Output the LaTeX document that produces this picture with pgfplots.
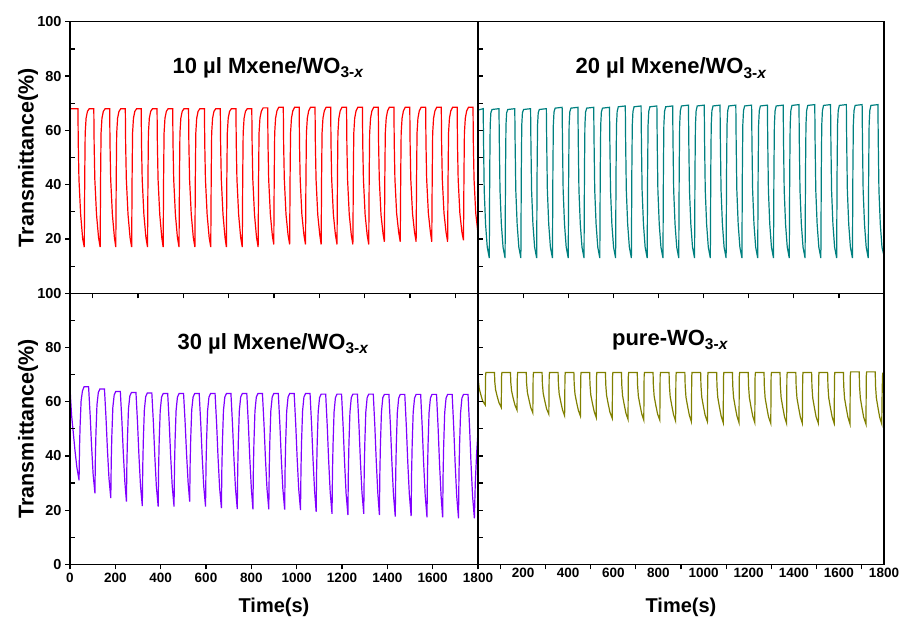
\documentclass[border=0pt]{standalone}
\usepackage{pgfplots}
\pgfplotsset{compat=1.18}
\usepackage{fontspec}
\setmainfont{Liberation Sans}
\definecolor{cred}{RGB}{255,0,0}
\definecolor{cteal}{RGB}{0,128,128}
\definecolor{cviolet}{RGB}{128,0,255}
\definecolor{colive}{RGB}{128,128,0}
\newcommand{\sub}{\raisebox{-4.3pt}{\fontsize{15.5}{15.5}\selectfont 3-\textit{x}}}
\pgfplotsset{
  panel/.style={
    scale only axis, xmin=0, xmax=1800, ymin=0, ymax=100,
    axis line style={line width=1.4pt},
    tick style={black, line width=1.2pt},
    major tick length=5pt,
    tick align=outside,
    xtick pos=bottom, ytick pos=left,
    xticklabel style={font=\fontsize{13.5}{13.5}\selectfont\bfseries},
    yticklabel style={font=\fontsize{14.5}{14.5}\selectfont\bfseries},
    /pgf/number format/assume math mode=true,
    scaled ticks=false,
    xlabel style={font=\fontsize{20}{20}\selectfont\bfseries, at={(axis description cs:0.5,-0.157)}, anchor=center},
    ylabel style={font=\fontsize{21.5}{21.5}\selectfont\bfseries, at={(axis description cs:-0.103,0.5)}, anchor=center},
  },
  ovl/.style={
    scale only axis, xmin=0, xmax=1800, ymin=0, ymax=100,
    axis line style={line width=1.4pt},
    tick style={black, line width=1.2pt},
    major tick length=5pt,
    xtick pos=bottom, ytick pos=left, xticklabels={}, yticklabels={},
  },
}
\begin{document}
\begin{tikzpicture}
\path[use as bounding box] (0pt,0pt) rectangle (901pt,619pt);
% ---------------- top-left ----------------
\begin{axis}[panel, at={(70pt,325.7pt)}, anchor=south west, width=408pt, height=271.5pt,
  xtick={100,300,...,1700}, xticklabels={},
  ytick={20,40,60,80,100},
  ylabel={Transmittance(\%)}]
\addplot[cred, line width=1.2pt] coordinates {
(0,68)(35,68)(36.5,55)(39.5,42)(47,29)(56,20)
(63,17)(65,43)(67,59)(71,64.5)(77,67)(85,68)(105,68)(106.5,55)(109.5,42)(117,29)(126,20.5)
(133,17)(135,43)(137,59)(141,64.5)(147,67)(155,68)(175,68)(176.5,55)(179.5,42)(187,29)(196,20.5)
(202,17)(204,43)(206,59)(210,64.5)(216,67)(224,68)(244,68)(245.5,55)(248.5,42)(256,29)(265,20.5)
(272,17)(274,43)(276,59)(280,64.5)(286,67)(294,68)(314,68)(315.5,55)(318.5,42)(326,29)(335,20.5)
(342,17)(344,43)(346,59)(350,64.5)(356,67)(364,68)(384,68)(385.5,55)(388.5,42)(396,29)(405,20.5)
(411,17)(413,43)(415,59)(419,64.5)(425,67)(433,68)(453,68)(454.5,55)(457.5,42)(465,29)(474,20.5)
(481,17)(483,43)(485,59)(489,64.5)(495,67)(503,68)(523,68)(524.5,55)(527.5,42)(535,29)(544,20.5)
(551,17)(553,43)(555,59)(559,64.5)(565,67)(573,68)(593,68)(594.5,55)(597.5,42)(605,29)(614,20.5)
(621,17)(623,43)(625,59)(629,64.5)(635,67)(643,68)(663,68)(664.5,55)(667.5,42)(675,29)(684,20.5)
(690,17)(692,43)(694,59)(698,64.5)(704,67)(712,68)(732,68)(733.5,55)(736.5,42)(744,29)(753,20.5)
(760,17)(762,43)(764,59)(768,64.5)(774,67)(782,68)(802,68)(803.5,55)(806.5,42)(814,29)(823,20.5)
(830,17)(832,43)(834,59)(838,64.5)(844,67)(852,68.3)(872,68.3)(873.5,55)(876.5,42)(884,29)(893,21)
(899,18)(901,43)(903,59)(907,64.5)(913,67.2)(921,68.5)(941,68.5)(942.5,55)(945.5,42)(953,29)(962,21.5)
(969,18)(971,43)(973,59)(977,64.5)(983,67.2)(991,68.5)(1011,68.5)(1012.5,55)(1015.5,42)(1023,29)(1032,21.5)
(1039,18)(1041,43)(1043,59)(1047,64.5)(1053,67.2)(1061,68.5)(1081,68.5)(1082.5,55)(1085.5,42)(1093,29)(1102,21.5)
(1108,18)(1110,43)(1112,59)(1116,64.5)(1122,67.2)(1130,68.5)(1150,68.5)(1151.5,55)(1154.5,42)(1162,29)(1171,21.5)
(1178,18)(1180,43)(1182,59)(1186,64.5)(1192,67.2)(1200,68.5)(1220,68.5)(1221.5,55)(1224.5,42)(1232,29)(1241,21.5)
(1248,18)(1250,43)(1252,59)(1256,64.5)(1262,67.2)(1270,68.5)(1290,68.5)(1291.5,55)(1294.5,42)(1302,29)(1311,21.5)
(1318,18)(1320,43)(1322,59)(1326,64.5)(1332,67.2)(1340,68.5)(1360,68.5)(1361.5,55)(1364.5,42)(1372,29)(1381,22)
(1387,19)(1389,43)(1391,59)(1395,64.5)(1401,67.2)(1409,68.5)(1429,68.5)(1430.5,55)(1433.5,42)(1441,29.5)(1450,22.5)
(1457,19)(1459,43)(1461,59)(1465,64.5)(1471,67.2)(1479,68.5)(1499,68.5)(1500.5,55)(1503.5,42)(1511,29.5)(1520,22.5)
(1527,19)(1529,43)(1531,59)(1535,64.5)(1541,67.2)(1549,68.5)(1569,68.5)(1570.5,55)(1573.5,42)(1581,29.5)(1590,22.5)
(1596,19)(1598,43)(1600,59)(1604,64.5)(1610,67.2)(1618,68.5)(1638,68.5)(1639.5,55)(1642.5,42)(1650,29.5)(1659,22.5)
(1666,19)(1668,43)(1670,59)(1674,64.5)(1680,67.2)(1688,68.5)(1708,68.5)(1709.5,55)(1712.5,42)(1720,29.5)(1729,22.5)
(1736,19.5)(1738,43)(1740,59)(1744,64.5)(1750,67.2)(1758,68.5)(1778,68.5)(1779.5,55)(1782.5,42)(1790,29.5)(1800,22)
};
\end{axis}
\begin{axis}[ovl, at={(70pt,325.7pt)}, anchor=south west, width=408pt, height=271.5pt,
  xtick=\empty, ytick={10,30,50,70,90}, tick align=inside]
\end{axis}
% ---------------- top-right ----------------
\begin{axis}[panel, at={(478pt,325.7pt)}, anchor=south west, width=406pt, height=271.5pt,
  xtick={0,200,...,1800}, xticklabels={}, ytick=\empty]
\addplot[cteal, line width=1.2pt] coordinates {
(0,67.5)(23,68)(24.5,56)(27.5,38)(33.5,25.5)(41,17)
(50,13)(52,45)(54,62)(57,66.5)(62,67.7)(93,68)(94.5,56)(97.5,38)(103.5,25.5)(111,17)
(120,13)(122,45)(124,62)(127,66.5)(132,67.7)(163,68)(164.5,56)(167.5,38)(173.5,25.5)(181,17)
(190,13)(192,45)(194,62)(197,66.5)(202,67.7)(233,68)(234.5,56)(237.5,38)(243.5,25.5)(251,17)
(260,13)(262,45)(264,62)(267,66.5)(272,67.7)(303,68)(304.5,56)(307.5,38)(313.5,25.5)(321,17)
(330,13)(332,45)(334,62)(337,66.8)(342,68.2)(373,68.5)(374.5,56)(377.5,38)(383.5,25.5)(391,17)
(400,13)(402,45)(404,62)(407,66.8)(412,68.2)(443,68.5)(444.5,56)(447.5,38)(453.5,25.5)(461,17)
(470,13)(472,45)(474,62)(477,66.8)(482,68.2)(513,68.5)(514.5,56)(517.5,38)(523.5,25.5)(531,17)
(540,13)(542,45)(544,62)(547,66.8)(552,68.2)(583,68.5)(584.5,56)(587.5,38)(593.5,25.5)(601,17)
(610,13)(612,45)(614,62)(617,67)(622,68.7)(653,69)(654.5,56)(657.5,38)(663.5,25.5)(671,17)
(680,13)(682,45)(684,62)(687,67)(692,68.7)(723,69)(724.5,56)(727.5,38)(733.5,25.5)(741,17)
(750,13)(752,45)(754,62)(757,67)(762,68.7)(793,69)(794.5,56)(797.5,38)(803.5,25.5)(811,17)
(820,13)(822,45)(824,62)(827,67)(832,68.7)(863,69)(864.5,56)(867.5,38)(873.5,25.5)(881,17)
(890,13)(892,45)(894,62)(897,67.2)(902,69)(933,69.3)(934.5,56)(937.5,38)(943.5,25.5)(951,17)
(960,13)(962,45)(964,62)(967,67.2)(972,69)(1003,69.3)(1004.5,56)(1007.5,38)(1013.5,25.5)(1021,17)
(1030,13)(1032,45)(1034,62)(1037,67.2)(1042,69)(1073,69.3)(1074.5,56)(1077.5,38)(1083.5,25.5)(1091,17)
(1100,13)(1102,45)(1104,62)(1107,67.2)(1112,69)(1143,69.3)(1144.5,56)(1147.5,38)(1153.5,25.5)(1161,17)
(1170,13)(1172,45)(1174,62)(1177,67.2)(1182,69)(1213,69.3)(1214.5,56)(1217.5,38)(1223.5,25.5)(1231,17)
(1240,13)(1242,45)(1244,62)(1247,67.2)(1252,69)(1283,69.3)(1284.5,56)(1287.5,38)(1293.5,25.5)(1301,17)
(1310,13)(1312,45)(1314,62)(1317,67.2)(1322,69)(1353,69.3)(1354.5,56)(1357.5,38)(1363.5,25.5)(1371,17)
(1380,13)(1382,45)(1384,62)(1387,67.3)(1392,69.2)(1423,69.5)(1424.5,56)(1427.5,38)(1433.5,25.5)(1441,17)
(1450,13)(1452,45)(1454,62)(1457,67.3)(1462,69.2)(1493,69.5)(1494.5,56)(1497.5,38)(1503.5,25.5)(1511,17)
(1520,13)(1522,45)(1524,62)(1527,67.3)(1532,69.2)(1563,69.5)(1564.5,56)(1567.5,38)(1573.5,25.5)(1581,17)
(1590,13)(1592,45)(1594,62)(1597,67.3)(1602,69.2)(1633,69.5)(1634.5,56)(1637.5,38)(1643.5,25.5)(1651,17)
(1660,13)(1662,45)(1664,62)(1667,67.3)(1672,69.2)(1703,69.5)(1704.5,56)(1707.5,38)(1713.5,25.5)(1721,17)
(1730,13)(1732,45)(1734,62)(1737,67.3)(1742,69.2)(1773,69.5)(1774.5,56)(1777.5,38)(1783.5,25.5)(1791,17)(1798,14.5)
};
\end{axis}
\begin{axis}[ovl, at={(478pt,325.7pt)}, anchor=south west, width=406pt, height=271.5pt,
  xtick=\empty, ytick={10,20,...,90}, tick align=inside]
\end{axis}
% ---------------- bottom-left ----------------
\begin{axis}[panel, at={(70pt,54.7pt)}, anchor=south west, width=408pt, height=271pt,
  xtick={0,200,...,1800}, xticklabels={0,200,400,600,800,1000,1200,1400,1600,1800},
  ytick={0,20,...,100},
  xlabel={Time(s)}, ylabel={Transmittance(\%)}]
\addplot[cviolet, line width=1.2pt] coordinates {
(0,66.8)(2,62)(7,55)(14,49)(22,42)(30,36)
(40,31)(42,43)(44.5,51)(49,60.3)(55,64)(62,65.5)(82,65.5)(89,54.9)(95,43.9)(102,33.3)
(110,26.2)(112,39.7)(114.5,48.5)(119,58.9)(125,63.4)(132,64.7)(152,64.7)(159,53.8)(165,42.5)(172,31.7)
(180,24.4)(182,38.2)(184.5,47.3)(189,57.9)(195,62.5)(202,63.8)(222,63.8)(229,52.8)(235,41.4)(242,30.4)
(249,23.1)(251,37.2)(253.5,46.5)(258,57.4)(264,62.1)(271,63.4)(291,63.4)(298,52.1)(304,40.4)(311,29)
(319,21.5)(321,36.1)(323.5,45.7)(328,56.9)(334,61.9)(341,63.2)(361,63.2)(368,52.1)(374,40.2)(381,28.8)
(389,21.3)(391,35.9)(393.5,45.5)(398,56.7)(404,61.7)(411,63)(431,63)(438,51.7)(444,40.1)(451,28.8)
(459,21.3)(461,35.9)(463.5,45.5)(468,56.7)(474,61.7)(481,63)(501,63)(508,52.2)(514,41.1)(521,30.3)
(528,23.1)(530,37.1)(532.5,46.2)(537,57)(543,61.7)(550,63)(570,63)(577,51.7)(583,40.1)(590,28.8)
(598,21.3)(600,35.9)(602.5,45.5)(607,56.7)(613,61.7)(620,63)(640,63)(647,51.6)(653,39.7)(660,28.3)
(668,20.7)(670,35.5)(672.5,45.2)(677,56.7)(683,61.7)(690,63)(710,63)(717,51.5)(723,39.6)(730,28.1)
(738,20.4)(740,35.3)(742.5,45.1)(747,56.6)(753,61.7)(760,63)(780,63)(787,51.5)(793,39.5)(800,28)
(807,20.3)(809,35.2)(811.5,45)(816,56.6)(822,61.7)(829,63)(849,63)(856,51.5)(862,39.5)(869,28)
(877,20.3)(879,35.2)(881.5,45)(886,56.6)(892,61.7)(899,63)(919,63)(926,51.5)(932,39.4)(939,27.9)
(947,20.2)(949,35.2)(951.5,45)(956,56.5)(962,61.7)(969,63)(989,63)(996,51.4)(1002,39.4)(1009,27.8)
(1017,20)(1019,35)(1021.5,44.9)(1026,56.5)(1032,61.7)(1039,63)(1059,63)(1066,51.2)(1072,39)(1079,27.2)
(1086,19.4)(1088,34.6)(1090.5,44.6)(1095,56.3)(1101,61.5)(1108,62.8)(1128,62.8)(1135,50.9)(1141,38.5)(1148,26.6)
(1156,18.6)(1158,34.1)(1160.5,44.2)(1165,56.2)(1171,61.5)(1178,62.8)(1198,62.8)(1205,50.8)(1211,38.3)(1218,26.2)
(1226,18.2)(1228,33.8)(1230.5,44.1)(1235,56.1)(1241,61.5)(1248,62.8)(1268,62.8)(1275,50.9)(1281,38.5)(1288,26.6)
(1296,18.6)(1298,34.1)(1300.5,44.2)(1305,56.2)(1311,61.5)(1318,62.8)(1338,62.8)(1345,50.8)(1351,38.3)(1358,26.2)
(1365,18.2)(1367,33.8)(1369.5,44.1)(1374,56.1)(1380,61.5)(1387,62.7)(1407,62.7)(1414,50.5)(1420,37.9)(1427,25.7)
(1435,17.6)(1437,33.4)(1439.5,43.8)(1444,55.9)(1450,61.3)(1457,62.7)(1477,62.7)(1484,50.6)(1490,38)(1497,25.9)
(1505,17.8)(1507,33.5)(1509.5,43.8)(1514,56)(1520,61.3)(1527,62.7)(1547,62.7)(1554,50.4)(1560,37.7)(1567,25.5)
(1575,17.3)(1577,33.2)(1579.5,43.6)(1584,55.9)(1590,61.3)(1597,62.7)(1617,62.7)(1624,50.4)(1630,37.7)(1637,25.5)
(1644,17.3)(1646,33.2)(1648.5,43.6)(1653,55.9)(1659,61.3)(1666,62.7)(1686,62.7)(1693,50.3)(1699,37.5)(1706,25.2)
(1714,17)(1716,33)(1718.5,43.5)(1723,55.8)(1729,61.3)(1736,62.7)(1756,62.7)(1763,50.3)(1769,37.5)(1776,25.2)
(1784,17)(1788,30)(1794,41)(1800,49)
};
\end{axis}
\begin{axis}[ovl, at={(70pt,54.7pt)}, anchor=south west, width=408pt, height=271pt,
  xtick=\empty, ytick={10,30,50,70,90}, tick align=inside]
\end{axis}
% ---------------- bottom-right ----------------
\begin{axis}[panel, at={(478pt,54.7pt)}, anchor=south west, width=406pt, height=271pt,
  xtick={200,400,...,1800}, xticklabels={200,400,600,800,1000,1200,1400,1600,1800},
  major tick length=0pt, ytick=\empty,
  xlabel={Time(s)}]
\addplot[colive, line width=1.2pt] coordinates {
(0,70.3)(2,67.5)(5.5,64.8)(12.5,62.6)(20.5,60.3)
(32,58.8)(33.5,69.3)(35,70.8)(73,70.8)(74.5,67.3)(78,64.4)(85,62)(93,59.6)
(103,57.9)(104.5,69.3)(106,70.8)(144,70.8)(145.5,67)(149,63.9)(156,61.3)(164,58.7)
(173,56.9)(174.5,69.3)(176,70.8)(214,70.8)(215.5,66.8)(219,63.4)(226,60.7)(234,57.8)
(243,55.9)(244.5,69.3)(246,70.8)(284,70.8)(285.5,66.6)(289,63.1)(296,60.3)(304,57.4)
(314,55.4)(315.5,69.3)(317,70.8)(355,70.8)(356.5,66.5)(360,62.8)(367,59.9)(375,56.9)
(384,54.8)(385.5,69.3)(387,70.8)(425,70.8)(426.5,66.5)(430,62.8)(437,59.8)(445,56.8)
(454,54.7)(455.5,69.3)(457,70.8)(495,70.8)(496.5,66.3)(500,62.5)(507,59.5)(515,56.4)
(524,54.2)(525.5,69.3)(527,70.8)(565,70.8)(566.5,66.2)(570,62.4)(577,59.3)(585,56.1)
(595,53.9)(596.5,69.3)(598,70.8)(636,70.8)(637.5,66.1)(641,62.2)(648,59)(656,55.7)
(665,53.5)(666.5,69.3)(668,70.8)(706,70.8)(707.5,66)(711,62)(718,58.8)(726,55.5)
(735,53.2)(736.5,69.3)(738,70.8)(776,70.8)(777.5,66)(781,62)(788,58.8)(796,55.5)
(806,53.2)(807.5,69.3)(809,70.8)(847,70.8)(848.5,66)(852,61.9)(859,58.6)(867,55.2)
(876,52.9)(877.5,69.3)(879,70.8)(917,70.8)(918.5,65.9)(922,61.7)(929,58.4)(937,55)
(946,52.6)(947.5,69.3)(949,70.8)(987,70.8)(988.5,65.9)(992,61.7)(999,58.4)(1007,55)
(1017,52.6)(1018.5,69.3)(1020,70.8)(1058,70.8)(1059.5,65.8)(1063,61.6)(1070,58.2)(1078,54.7)
(1087,52.3)(1088.5,69.3)(1090,70.8)(1128,70.8)(1129.5,65.8)(1133,61.6)(1140,58.2)(1148,54.7)
(1157,52.3)(1158.5,69.3)(1160,70.8)(1198,70.8)(1199.5,65.8)(1203,61.6)(1210,58.2)(1218,54.7)
(1227,52.3)(1228.5,69.3)(1230,70.8)(1268,70.8)(1269.5,65.7)(1273,61.4)(1280,58)(1288,54.4)
(1298,52)(1299.5,69.3)(1301,70.8)(1339,70.8)(1340.5,65.7)(1344,61.4)(1351,58)(1359,54.4)
(1368,52)(1369.5,69.3)(1371,70.8)(1409,70.8)(1410.5,65.7)(1414,61.4)(1421,58)(1429,54.4)
(1438,52)(1439.5,69.3)(1441,70.8)(1479,70.8)(1480.5,65.7)(1484,61.4)(1491,58)(1499,54.4)
(1509,52)(1510.5,69.3)(1512,70.8)(1550,70.8)(1551.5,65.7)(1555,61.4)(1562,58)(1570,54.4)
(1579,52)(1580.5,69.3)(1582,70.8)(1620,70.8)(1621.5,65.7)(1625,61.3)(1632,57.9)(1640,54.3)
(1649,51.8)(1650.5,69.5)(1652,71)(1690,71)(1691.5,65.8)(1695,61.4)(1702,57.9)(1710,54.2)
(1720,51.7)(1721.5,69.5)(1723,71)(1761,71)(1762.5,65.8)(1766,61.4)(1773,57.9)(1781,54.2)
(1790,51.8)(1792,65)(1794,70.5)(1800,70.5)
};
\end{axis}
\begin{axis}[ovl, at={(478pt,54.7pt)}, anchor=south west, width=406pt, height=271pt,
  xtick={100,300,...,1700}, ytick=\empty, tick align=outside]
\end{axis}
\begin{axis}[ovl, at={(478pt,54.7pt)}, anchor=south west, width=406pt, height=271pt,
  xtick=\empty, ytick={10,20,...,90}, tick align=inside]
\end{axis}
% ---------------- titles ----------------
\node[anchor=base, font=\fontsize{22}{22}\selectfont\bfseries] at (268pt,545.7pt) {10 µl Mxene/WO\sub};
\node[anchor=base, font=\fontsize{22}{22}\selectfont\bfseries] at (671pt,545pt) {20 µl Mxene/WO\sub};
\node[anchor=base, font=\fontsize{22}{22}\selectfont\bfseries] at (273pt,270pt) {30 µl Mxene/WO\sub};
\node[anchor=base, font=\fontsize{22}{22}\selectfont\bfseries] at (670pt,274pt) {pure-WO\sub};
\end{tikzpicture}
\end{document}
